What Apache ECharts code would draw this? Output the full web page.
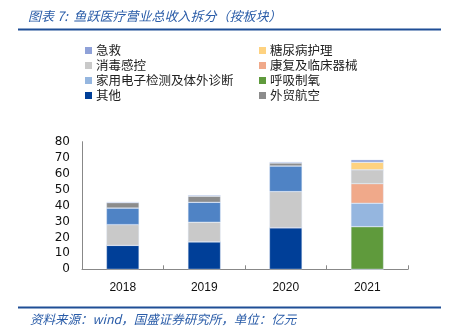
<!DOCTYPE html>
<html><head><meta charset="utf-8">
<script src="https://cdn.jsdelivr.net/npm/echarts@6/dist/echarts.min.js"></script>
<style>html,body{margin:0;padding:0;background:#fff}#c{width:449px;height:335px}</style>
</head><body><div id="c"></div>
<script>
const categories = ['2018', '2019', '2020', '2021'];
const qita = [15.0, 17.3, 26.1, 0];        // 其他
const huxi = [0, 0, 0, 26.7];              // 呼吸制氧
const jiayong = [0, 0, 0, 14.7];           // 家用电子检测及体外诊断
const kangfu = [0, 0, 0, 12.3];            // 康复及临床器械
const xiaodu = [13.0, 12.2, 22.6, 8.7];    // 消毒感控
const yiliao = [10.4, 12.5, 16.1, 0];      // (未列入图例)
const tangniao = [0, 0, 0, 4.7];           // 糖尿病护理
const waimao = [3.4, 3.8, 1.8, 0];         // 外贸航空
const jijiu = [0.4, 0.6, 0.7, 1.6];        // 急救
const yTicks = [0, 10, 20, 30, 40, 50, 60, 70, 80];
const legendLeft = ['急救', '消毒感控', '家用电子检测及体外诊断', '其他'];
const legendRight = ['糖尿病护理', '康复及临床器械', '呼吸制氧', '外贸航空'];

const seriesDefs = [
  ['其他', qita, '#003f98'],
  ['呼吸制氧', huxi, '#5f9a3c'],
  ['家用电子检测及体外诊断', jiayong, '#95b6df'],
  ['康复及临床器械', kangfu, '#f0a98a'],
  ['消毒感控', xiaodu, '#c9c9c9'],
  ['医疗器械', yiliao, '#4f83c5'],
  ['糖尿病护理', tangniao, '#fed280'],
  ['外贸航空', waimao, '#8c8c8c'],
  ['急救', jijiu, '#8fa1d8']
];

const rowCenters = [50.5, 65.5, 80.5, 95.5];
const legends = [];
[[legendLeft, 85], [legendRight, 259]].forEach(([names, left]) => {
  names.forEach((n, i) => {
    legends.push({
      left, top: rowCenters[i] - 8, data: [n], padding: 0,
      itemWidth: 7, itemHeight: 7, icon: 'rect', itemStyle: { borderWidth: 0 },
      textStyle: { fontSize: 12.5, lineHeight: 16, color: '#222', fontFamily: 'Noto Sans CJK SC', padding: [0,0,0,-1] }
    });
  });
});

const chart = echarts.init(document.getElementById('c'));
chart.setOption({
  animation: false,
  title: [
    { text: '图表 7:  鱼跃医疗营业总收入拆分（按板块）', left: 23, top: 5,
      textStyle: { fontSize: 13, fontStyle: 'italic', fontWeight: 'normal', color: '#2a5ca8', fontFamily: 'Noto Sans CJK SC' } },
    { text: '资料来源：wind，国盛证券研究所，单位：亿元', left: 25, top: 308,
      textStyle: { fontSize: 12.5, fontStyle: 'italic', fontWeight: 'normal', color: '#2a5ca8', fontFamily: 'Noto Sans CJK SC' } }
  ],
  graphic: [
    { type: 'line', shape: { x1: 18, y1: 29.5, x2: 441, y2: 29.5 }, style: { stroke: '#1f4e96', lineWidth: 2 } },
    { type: 'line', shape: { x1: 18, y1: 307.5, x2: 441, y2: 307.5 }, style: { stroke: '#1f4e96', lineWidth: 2 } }
  ],
  legend: legends,
  grid: { left: 82, right: 41, top: 141.7, bottom: 65.7 },
  xAxis: {
    type: 'category', data: categories,
    axisLine: { lineStyle: { color: '#888', width: 1 } },
    axisTick: { show: true, inside: true, length: 4, lineStyle: { color: '#888' } },
    axisLabel: { color: '#111', fontSize: 12, fontFamily: 'Liberation Sans', margin: 12 }
  },
  yAxis: {
    type: 'value', min: yTicks[0], max: yTicks[yTicks.length - 1], interval: 10,
    splitLine: { show: false },
    axisLine: { show: true, lineStyle: { color: '#888', width: 1 } },
    axisTick: { show: false },
    axisLabel: { color: '#111', fontSize: 12, fontFamily: 'DejaVu Sans', margin: 12 }
  },
  series: seriesDefs.map(([name, data, color]) => ({
    name, type: 'bar', stack: 'total', data, barWidth: '40%',
    itemStyle: { color, borderColor: 'rgba(220,230,245,0.8)', borderWidth: 0.5 }
  }))
});
</script></body></html>
